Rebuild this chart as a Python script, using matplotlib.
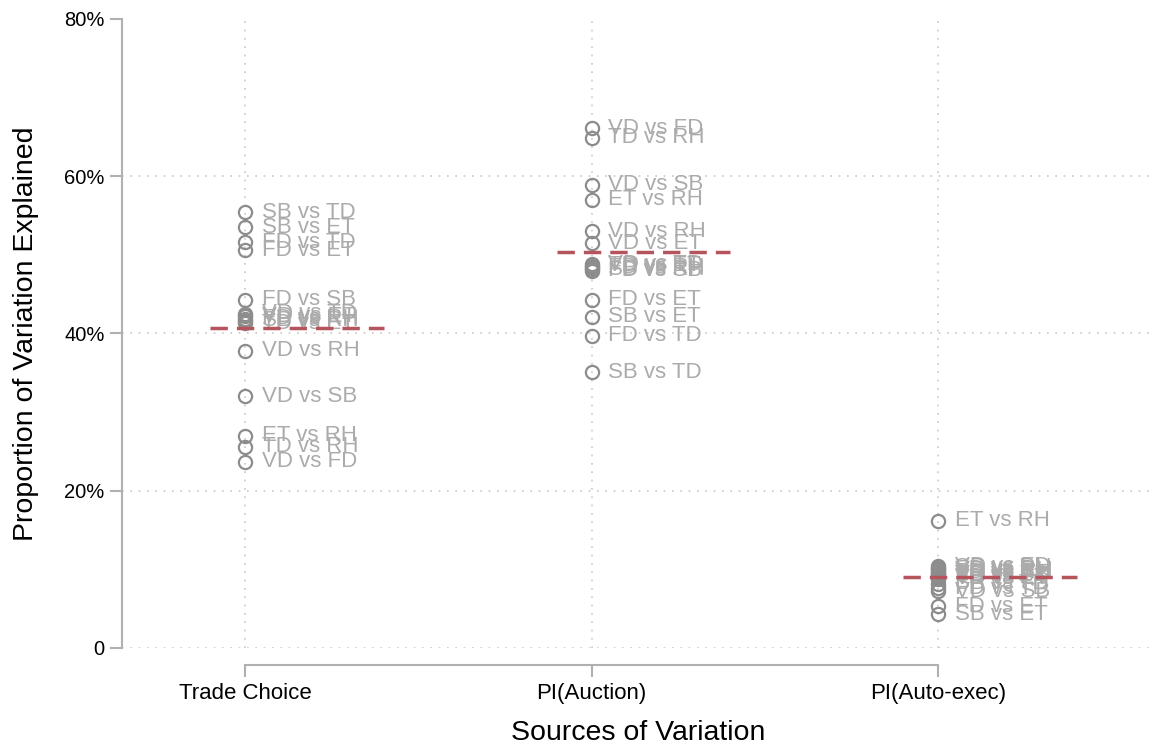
import matplotlib.pyplot as plt

plt.rcParams['font.family'] = ['Liberation Sans', 'DejaVu Sans']

categories = ['Trade Choice', 'PI(Auction)', 'PI(Auto-exec)']

trade_labels = ['SB vs TD', 'SB vs ET', 'FD vs TD', 'FD vs ET', 'FD vs SB',
                'VD vs TD', 'VD vs ET', 'FD vs RH', 'SB vs RH', 'TD vs ET',
                'VD vs RH', 'VD vs SB', 'ET vs RH', 'TD vs RH', 'VD vs FD']
trade_vals = [55.4, 53.5, 51.6, 50.6, 44.3,
              42.5, 42.2, 41.9, 41.6, 41.3,
              37.8, 32.0, 27.0, 25.6, 23.7]

auction_labels = ['VD vs FD', 'TD vs RH', 'VD vs SB', 'ET vs RH', 'VD vs RH',
                  'VD vs ET', 'VD vs TD', 'TD vs ET', 'FD vs RH', 'SB vs RH',
                  'FD vs SB', 'FD vs ET', 'SB vs ET', 'FD vs TD', 'SB vs TD']
auction_vals = [66.1, 64.9, 58.9, 57.0, 53.0,
                51.5, 48.8, 48.6, 48.4, 48.2,
                48.0, 44.3, 42.1, 39.7, 35.1]

auto_labels = ['ET vs RH', 'SB vs RH', 'FD vs RH', 'VD vs RH', 'TD vs RH',
               'VD vs TD', 'FD vs SB', 'TD vs ET', 'VD vs ET', 'SB vs TD',
               'FD vs TD', 'VD vs SB', 'VD vs FD', 'FD vs ET', 'SB vs ET']
auto_vals = [16.2, 10.2, 10.0, 9.8, 9.6,
             9.4, 9.2, 9.0, 8.8, 8.2,
             7.6, 7.2, 10.4, 5.3, 4.3]

groups = [(trade_labels, trade_vals), (auction_labels, auction_vals),
          (auto_labels, auto_vals)]

fig = plt.figure(figsize=(11.62, 7.48), dpi=100)
ax = fig.add_axes([0.105, 0.1337, 0.889, 0.8409])

# spines first (set_position resets the ticks)
for s in ['top', 'right']:
    ax.spines[s].set_visible(False)
ax.spines['bottom'].set_position(('outward', 12))
ax.spines['left'].set_bounds(0, 80)
ax.spines['left'].set_color('#b0b0b0')
ax.spines['left'].set_linewidth(1.5)
ax.spines['bottom'].set_bounds(1, 3)
ax.spines['bottom'].set_color('#b0b0b0')
ax.spines['bottom'].set_linewidth(1.5)

# gridlines
for y in [0, 20, 40, 60]:
    ax.axhline(y, color='#c8c8c8', linestyle=(0, (1, 4)), linewidth=1.2, zorder=0)
for i in range(len(categories)):
    ax.axvline(i + 1, color='#c8c8c8', linestyle=(0, (1, 4)), linewidth=1.2, zorder=0)

for i, (labs, vals) in enumerate(groups):
    x = i + 1
    ax.plot([x] * len(vals), vals, 'o', markerfacecolor='none',
            markeredgecolor='#8c8c8c', markersize=9.5, markeredgewidth=1.6, zorder=3)
    for lab, v in zip(labs, vals):
        ax.annotate(lab, (x, v), xytext=(12, 0), textcoords='offset points',
                    va='center', ha='left', fontsize=16, color='#ababab', zorder=2)
    mean = sum(vals) / len(vals)
    ax.plot([x - 0.1, x + 0.4], [mean, mean], color='#b5545c', linewidth=2.5,
            linestyle=(0, (5, 2.6)), zorder=4)

ax.set_xlim(0.645, 3.626)
ax.set_ylim(0, 80)

ax.set_yticks([0, 20, 40, 60, 80])
ax.set_yticklabels(['0', '20%', '40%', '60%', '80%'])
ax.set_xticks([1, 2, 3])
ax.set_xticklabels(categories)
ax.tick_params(axis='both', color='#b0b0b0', length=8.5, width=1.5)
ax.tick_params(axis='y', labelsize=14.5, pad=4)
ax.tick_params(axis='x', labelsize=16, pad=5)

ax.set_xlabel('Sources of Variation', fontsize=20.5, labelpad=11)
ax.set_ylabel('Proportion of Variation Explained', fontsize=20.5, labelpad=18)

fig.savefig('out.png', dpi=100)
